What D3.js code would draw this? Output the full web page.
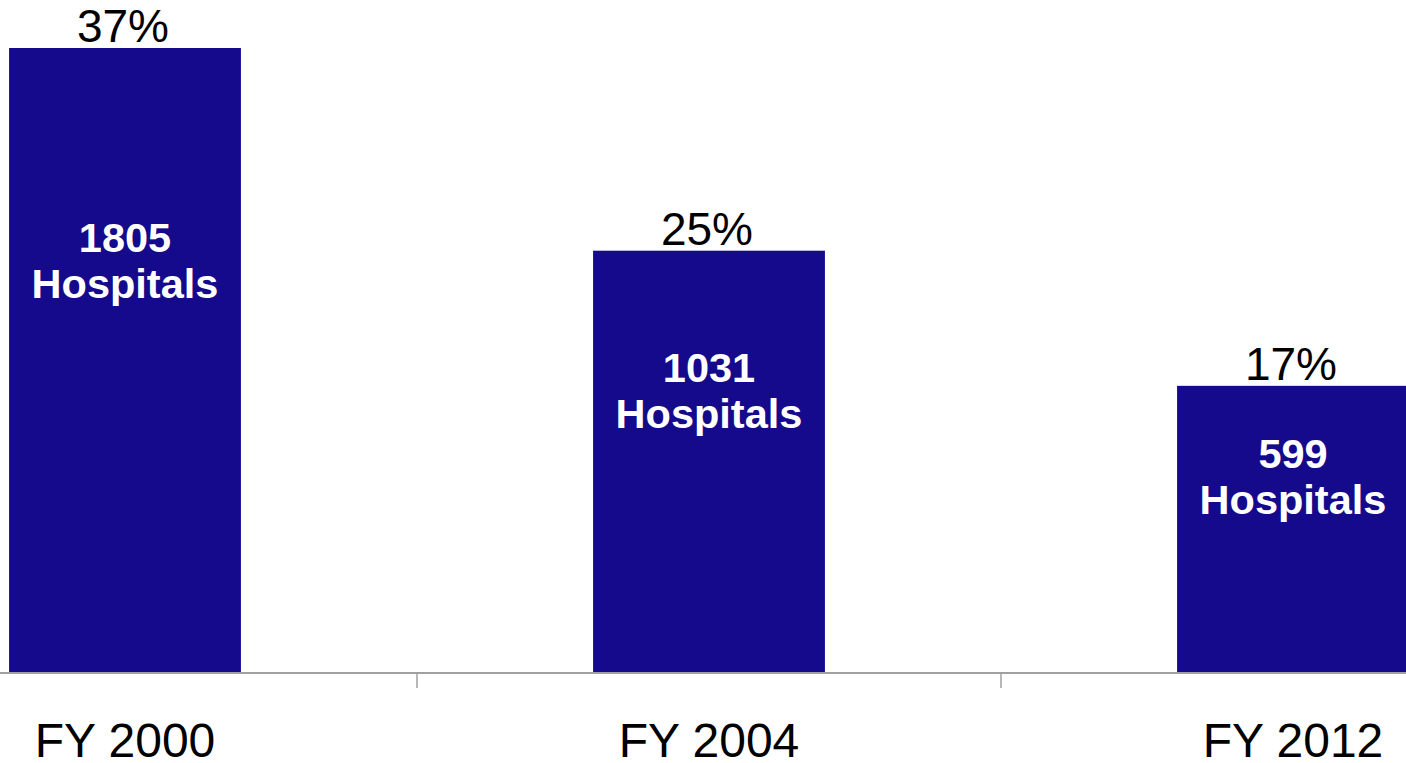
<!DOCTYPE html>
<html>
<head>
<meta charset="utf-8">
<script src="https://cdn.jsdelivr.net/npm/d3@7"></script>
<style>
  html, body { margin: 0; padding: 0; background: #ffffff; overflow: hidden; }
  svg { display: block; }
  text { font-family: "Liberation Sans", Arial, sans-serif; }
</style>
</head>
<body>
<svg id="chart" width="1406" height="763"></svg>
<script>
// Share of hospitals by fiscal year
const categories = ["FY 2000", "FY 2004", "FY 2012"];
const shares = [37, 25, 17];            // percent
const hospitalCounts = [1805, 1031, 599];

const width = 1406, height = 763;
const baseY = 673, topY = 48;

const svg = d3.select("#chart");

// Plot area runs past the right edge, so the last bar is cut off
const x = d3.scaleBand()
  .domain(categories)
  .range([-167, 1585])
  .paddingInner(0.603)
  .paddingOuter(0.3015);

const y = d3.scaleLinear()
  .domain([0, 37])
  .range([baseY, topY]);

const data = categories.map((c, i) => ({ cat: c, share: shares[i], count: hospitalCounts[i] }));

// Bars
svg.append("g")
  .selectAll("rect")
  .data(data)
  .join("rect")
  .attr("x", d => x(d.cat))
  .attr("y", d => y(d.share))
  .attr("width", x.bandwidth())
  .attr("height", d => baseY - y(d.share))
  .attr("fill", "#150a8c");

// Category axis: baseline, ticks between categories, labels below
const axis = svg.append("g");
axis.append("line")
  .attr("x1", 0).attr("x2", width)
  .attr("y1", baseY).attr("y2", baseY)
  .attr("stroke", "#a0a0a0").attr("stroke-width", 2);

const boundaries = categories.slice(1).map(c => x(c) - x.step() * x.paddingInner() / 2);
axis.selectAll("line.tick")
  .data(boundaries)
  .join("line")
  .attr("class", "tick")
  .attr("x1", d => d).attr("x2", d => d)
  .attr("y1", baseY).attr("y2", baseY + 15)
  .attr("stroke", "#a0a0a0").attr("stroke-width", 1.5);

axis.selectAll("text")
  .data(categories)
  .join("text")
  .attr("x", d => x(d) + x.bandwidth() / 2)
  .attr("y", 757)
  .attr("text-anchor", "middle")
  .attr("font-size", 48)
  .attr("fill", "#000")
  .text(d => d);

// Percentage labels above bars
svg.append("g")
  .selectAll("text")
  .data(data)
  .join("text")
  .attr("x", d => x(d.cat) + x.bandwidth() / 2 - 2)
  .attr("y", d => y(d.share) - 6)
  .attr("text-anchor", "middle")
  .attr("font-size", 46)
  .attr("fill", "#000")
  .text(d => d.share + "%");

// Hospital counts inside bars, set about a third of the way down each bar
const labelY = d => y(d.share) + 0.36 * (baseY - y(d.share)) - 21;

const inner = svg.append("g")
  .selectAll("text")
  .data(data)
  .join("text")
  .attr("text-anchor", "middle")
  .attr("font-size", 41.5)
  .attr("font-weight", "bold")
  .attr("fill", "#ffffff");

inner.append("tspan")
  .attr("x", d => x(d.cat) + x.bandwidth() / 2)
  .attr("y", labelY)
  .text(d => d.count);

inner.append("tspan")
  .attr("x", d => x(d.cat) + x.bandwidth() / 2)
  .attr("y", d => labelY(d) + 46)
  .text("Hospitals");
</script>
</body>
</html>
